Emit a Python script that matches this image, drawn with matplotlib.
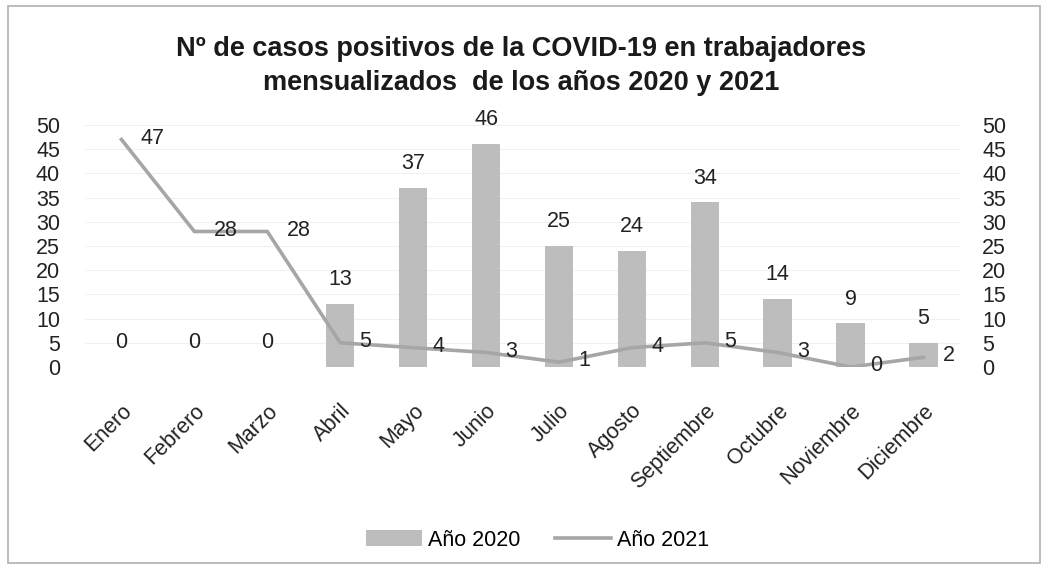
import matplotlib
matplotlib.use("Agg")
import matplotlib.pyplot as plt
from matplotlib.patches import Rectangle
from matplotlib.lines import Line2D
from matplotlib.patches import Patch
import numpy as np

months = ["Enero", "Febrero", "Marzo", "Abril", "Mayo", "Junio", "Julio",
          "Agosto", "Septiembre", "Octubre", "Noviembre", "Diciembre"]
casos_2020 = [0, 0, 0, 13, 37, 46, 25, 24, 34, 14, 9, 5]
casos_2021 = [47, 28, 28, 5, 4, 3, 1, 4, 5, 3, 0, 2]
yticks = [0, 5, 10, 15, 20, 25, 30, 35, 40, 45, 50]
title = "Nº de casos positivos de la COVID-19 en trabajadores\nmensualizados  de los años 2020 y 2021"

plt.rcParams['font.family'] = ['Liberation Sans', 'DejaVu Sans']

W, H = 1048, 569
fig = plt.figure(figsize=(W / 100, H / 100), dpi=100)
fig.patch.set_facecolor("white")

bar_color = "#bdbdbd"
line_color = "#a6a6a6"
fs = 15.5

ax = fig.add_axes([85 / W, 1 - 367 / H, (960 - 85) / W, (367 - 125) / H])
x = np.arange(len(months))
ax.set_xlim(-0.5, len(months) - 0.5)
ax.set_ylim(0, 50)
for y in yticks[1:]:
    ax.axhline(y, color="#f0f0f0", lw=0.8, zorder=0)
bars = ax.bar(x, casos_2020, width=0.39, color=bar_color, zorder=2)
for xi, v in zip(x, casos_2020):
    ax.annotate(str(v), (xi, v), xytext=(0, 10), textcoords="offset points",
                ha="center", va="bottom", fontsize=fs, color="#222222")

ax.set_yticks(yticks)
ax.tick_params(axis="y", length=0, pad=18, labelsize=fs, colors="#222222")
ax.set_xticks(x)
ax.set_xticklabels(months, rotation=45, ha="right", rotation_mode="anchor")
ax.tick_params(axis="x", length=0, pad=24, labelsize=fs, colors="#222222")
for s in ax.spines.values():
    s.set_visible(False)

ax2 = ax.twinx()
ax2.set_ylim(0, 50)
ax2.plot(x, casos_2021, color=line_color, lw=2.6, zorder=3)
for xi, v in zip(x, casos_2021):
    ax2.annotate(str(v), (xi, v), xytext=(14, 1), textcoords="offset points",
                 ha="left", va="center", fontsize=fs, color="#222222")
ax2.set_yticks(yticks)
ax2.tick_params(axis="y", length=0, pad=16, labelsize=fs, colors="#222222")
for s in ax2.spines.values():
    s.set_visible(False)

fig.text(0.497, 1 - 66 / H, title, ha="center", va="center", fontsize=19.5,
         fontweight="bold", color="#1a1a1a", linespacing=1.35)

handles = [Patch(facecolor=bar_color, edgecolor="none"),
           Line2D([0], [0], color=line_color, lw=2.6)]
fig.legend(handles, ["Año 2020", "Año 2021"], loc="center",
           bbox_to_anchor=(0.513, 1 - 540 / H), ncol=2, frameon=False,
           fontsize=fs, handlelength=2.6, columnspacing=1.6, handletextpad=0.3)

fig.add_artist(Rectangle((8 / W, 6 / H), (1040 - 8) / W, (563 - 6) / H,
                         transform=fig.transFigure, fill=False,
                         edgecolor="#b0b0b0", lw=1.2))

fig.savefig("out.png", dpi=100)
